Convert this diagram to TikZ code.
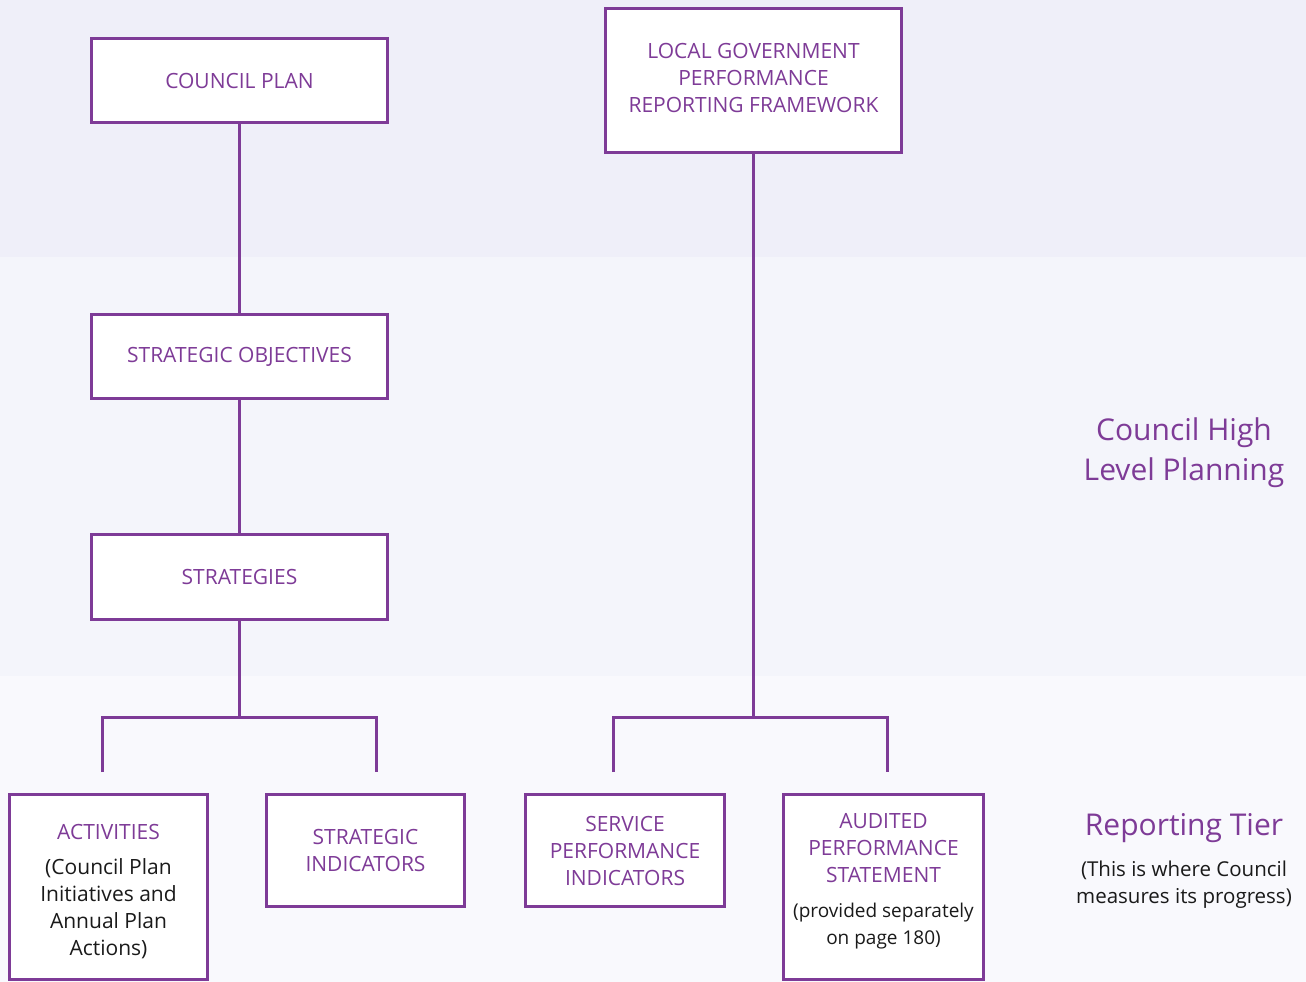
\documentclass[tikz,border=0pt]{standalone}
\usepackage{fontspec}
\setmainfont{Open Sans}
\definecolor{pur}{HTML}{7E3B97}
\definecolor{bandA}{HTML}{EFEFF9}
\definecolor{bandB}{HTML}{F4F5FB}
\definecolor{bandC}{HTML}{F9F9FD}
\definecolor{ink}{HTML}{1A1A1A}
\begin{document}
\begin{tikzpicture}[x=1pt,y=-1pt,
  box/.style={draw=pur, line width=3pt, fill=white, inner sep=0pt, align=center, text=pur,
    font=\fontsize{21}{27}\selectfont},
  btext/.style={inner sep=0pt, align=center, text=pur, font=\fontsize{21}{27}\selectfont},
  link/.style={draw=pur, line width=3pt},
  big/.style={text=pur, align=center, font=\fontsize{30}{40}\selectfont},
  note/.style={text=ink, align=center, font=\fontsize{20.5}{27}\selectfont}]
\useasboundingbox (0,0) rectangle (1306,982);
\fill[bandA] (0,0) rectangle (1306,257);
\fill[bandB] (0,257) rectangle (1306,676);
\fill[bandC] (0,676) rectangle (1306,982);

\node[box, minimum width=296pt, minimum height=84pt] (cp) at (239.5,80.5) {COUNCIL PLAN};
\node[box, minimum width=296pt, minimum height=144pt] (lg) at (753.5,80.5) {};
\node[btext] (lgt) at (753.5,78) {LOCAL GOVERNMENT\\PERFORMANCE\\REPORTING FRAMEWORK};
\node[box, minimum width=296pt, minimum height=84pt] (so) at (239.5,356.5) {STRATEGIC OBJECTIVES};
\node[box, minimum width=296pt, minimum height=85pt] (st) at (239.5,577) {STRATEGIES};

\node[box, minimum width=198pt, minimum height=185pt] (act) at (108.5,887) {};
\node[btext] (actt) at (108.5,892) {ACTIVITIES\\[8pt]\color{ink}(Council Plan\\\color{ink}Initiatives and\\\color{ink}Annual Plan\\\color{ink}Actions)};
\node[box, minimum width=198pt, minimum height=112pt] (si) at (365.5,850.5) {STRATEGIC\\INDICATORS};
\node[box, minimum width=199pt, minimum height=112pt] (spi) at (625,850.5) {SERVICE\\PERFORMANCE\\INDICATORS};
\node[box, minimum width=200pt, minimum height=185pt] (aud) at (883.5,887) {};
\node[btext] (audt) at (883.5,881.5) {AUDITED\\PERFORMANCE\\STATEMENT\\[8pt]{\fontsize{19}{27}\selectfont\color{ink}(provided separately}\\{\fontsize{19}{27}\selectfont\color{ink}on page 180)}};

\coordinate (j1) at (239.5,717);
\coordinate (la) at (102,772);
\coordinate (lb) at (376,772);
\coordinate (j2) at (753.5,717);
\coordinate (ra) at (613,772);
\coordinate (rb) at (887,772);

\draw[link] (cp.south) -- (so.north);
\draw[link] (so.south) -- (st.north);
\draw[link] (st.south) -- (j1);
\draw[link] (la) |- (j1) -| (lb);
\draw[link] (lg.south) -- (j2);
\draw[link] (ra) |- (j2) -| (rb);

\node[big] (hl) at (1184,453) {Council High\\Level Planning};
\node[big] (rt) at (1184,828) {Reporting Tier};
\node[note] (rn) at (1184,885) {(This is where Council\\measures its progress)};
\end{tikzpicture}
\end{document}
